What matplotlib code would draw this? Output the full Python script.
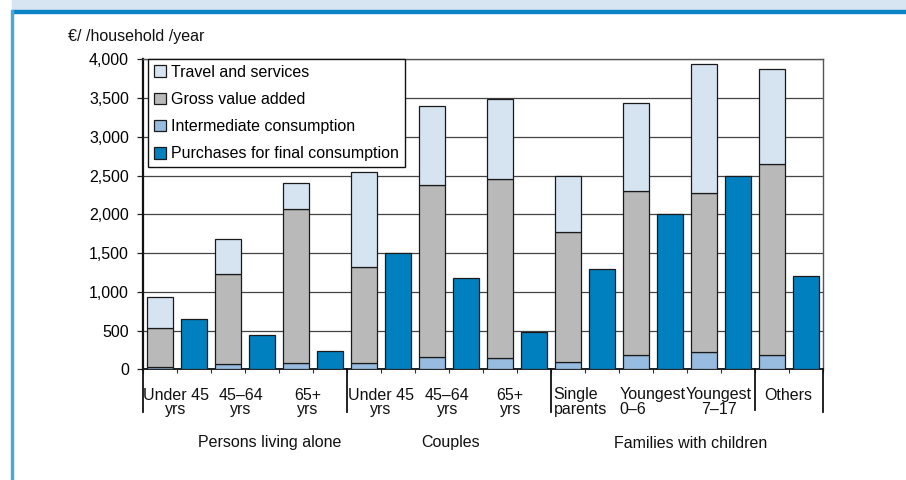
import matplotlib
matplotlib.use("Agg")
import matplotlib.pyplot as plt
from matplotlib import font_manager
from matplotlib.patches import Patch, Rectangle
from matplotlib.transforms import blended_transform_factory
from matplotlib.ticker import FuncFormatter, FixedLocator

# ---------------- data ----------------
categories = ["Under 45\nyrs", "45\u201364\nyrs", "65+\nyrs",
              "Under 45\nyrs", "45\u201364\nyrs", "65+\nyrs",
              "Single\nparents", "Youngest\n0\u20136", "Youngest\n7\u201317", "Others"]
groups = ["Persons living alone", "Couples", "Families with children"]
intermediate = [30, 65, 75, 75, 155, 140, 90, 190, 225, 190]
gross_value = [500, 1160, 1990, 1240, 2225, 2315, 1680, 2110, 2045, 2465]
travel = [400, 455, 345, 1235, 1020, 1030, 730, 1140, 1675, 1215]
purchases = [655, 440, 230, 1500, 1180, 480, 1300, 2005, 2500, 1200]
yticks = [0, 500, 1000, 1500, 2000, 2500, 3000, 3500, 4000]
series_names = ["Travel and services", "Gross value added",
                "Intermediate consumption", "Purchases for final consumption"]

# ---------------- style ----------------
names = {f.name for f in font_manager.fontManager.ttflist}
fam = "Liberation Sans Narrow" if "Liberation Sans Narrow" in names else "Liberation Sans"
plt.rcParams["font.family"] = [fam, "DejaVu Sans"]
FS = 11.5

c_travel = "#d6e4f2"
c_gva = "#b9b9b9"
c_int = "#98bce0"
c_pur = "#0080be"
edge = "#1a1a1a"

W, H = 906, 480
fig = plt.figure(figsize=(W / 100, H / 100), dpi=100)

def fx(px):
    return px / W

def fy(py):
    return 1 - py / H

# frame decorations
fig.patches.append(Rectangle((fx(12), fy(9.5)), 1 - fx(12), 9.5 / H,
                             transform=fig.transFigure, color="#d7e5f2", zorder=0))
fig.patches.append(Rectangle((fx(12), fy(13.3)), 1 - fx(12), 3.8 / H,
                             transform=fig.transFigure, color="#0a84c4", zorder=1))
fig.patches.append(Rectangle((fx(11), 0), 2.2 / W, fy(9.5),
                             transform=fig.transFigure, color="#4aa8d8", zorder=1))

ax_l, ax_r, ax_t, ax_b = 143, 823, 59.3, 369.3
ax = fig.add_axes([fx(ax_l), fy(ax_b), (ax_r - ax_l) / W, (ax_b - ax_t) / H])

n = len(categories)
xs_stack = [2 * i for i in range(n)]
xs_pur = [2 * i + 1 for i in range(n)]
bw = 0.76

b_gva = intermediate
b_trv = [a + b for a, b in zip(intermediate, gross_value)]
ax.bar(xs_stack, intermediate, bw, color=c_int, edgecolor=edge, linewidth=0.9, zorder=3)
ax.bar(xs_stack, gross_value, bw, bottom=b_gva, color=c_gva, edgecolor=edge, linewidth=0.9, zorder=3)
ax.bar(xs_stack, travel, bw, bottom=b_trv, color=c_travel, edgecolor=edge, linewidth=0.9, zorder=3)
ax.bar(xs_pur, purchases, bw, color=c_pur, edgecolor=edge, linewidth=0.9, zorder=3)

ax.set_xlim(-0.5, 2 * n - 0.5)
ax.set_ylim(0, 4000)
ax.set_yticks(yticks)
ax.yaxis.set_major_formatter(FuncFormatter(lambda v, p: f"{int(v):,}"))
ax.tick_params(axis="y", labelsize=FS, length=4, width=0.9, color="#222", pad=6)
ax.set_axisbelow(True)
ax.grid(axis="y", color="#444444", linewidth=0.9)

ax.xaxis.set_major_locator(FixedLocator([x - 0.5 for x in range(2 * n + 1)]))
ax.tick_params(axis="x", length=3, width=0.8, color="#333", labelbottom=False)

for s in ["top", "right"]:
    ax.spines[s].set_color("#555555")
    ax.spines[s].set_linewidth(1.0)
ax.spines["left"].set_color("#111111")
ax.spines["left"].set_linewidth(1.6)
ax.spines["bottom"].set_color("#111111")
ax.spines["bottom"].set_linewidth(1.3)

tr = blended_transform_factory(ax.transData, ax.transAxes)
ax_h = ax_b - ax_t

def ay(py):
    return (ax_b - py) / ax_h

# separators between groups
for xsep in [-0.5, 5.5, 11.5, 19.5]:
    ax.plot([xsep, xsep], [0, ay(412)], transform=tr, color="#111111",
            linewidth=1.3, clip_on=False, zorder=4)
ax.plot([17.5, 17.5], [0, ay(410)], transform=tr, color="#111111",
        linewidth=1.3, clip_on=False, zorder=4)

# category labels
lab_x = [0.47, 2.38, 4.35, 6.5, 8.45, 10.3, 11.58, 13.52, 16.44, 18.47]
lab_ha = ["center"] * 6 + ["left", "left", "center", "center"]
for i, lab in enumerate(categories):
    ax.text(lab_x[i], ay(387.5), lab, transform=tr, ha=lab_ha[i], va="top",
            fontsize=FS, multialignment=lab_ha[i], linespacing=0.98, color="#111111")

# group labels
grp_x = [3.24, 8.55, 15.6]
for gx, g in zip(grp_x, groups):
    ax.text(gx, ay(443), g, transform=tr, ha="center", va="center",
            fontsize=FS, color="#111111")

# unit label
fig.text(fx(68), fy(37), "\u20ac/ /household /year", ha="left", va="center",
         fontsize=FS, color="#111111")

# legend
handles = [Patch(facecolor=c_travel, edgecolor=edge, linewidth=0.9),
           Patch(facecolor=c_gva, edgecolor=edge, linewidth=0.9),
           Patch(facecolor=c_int, edgecolor=edge, linewidth=0.9),
           Patch(facecolor=c_pur, edgecolor=edge, linewidth=0.9)]
leg = ax.legend(handles, series_names, loc="upper left",
                bbox_to_anchor=(fx(148), fy(59.3)), bbox_transform=fig.transFigure,
                fontsize=FS, frameon=True, fancybox=False, edgecolor="#111111",
                framealpha=1, borderaxespad=0, borderpad=0.35,
                handlelength=0.75, handleheight=0.75, handletextpad=0.35,
                labelspacing=0.76)
leg.get_frame().set_linewidth(1.0)
leg.set_zorder(10)

fig.savefig("out.png", dpi=100)
